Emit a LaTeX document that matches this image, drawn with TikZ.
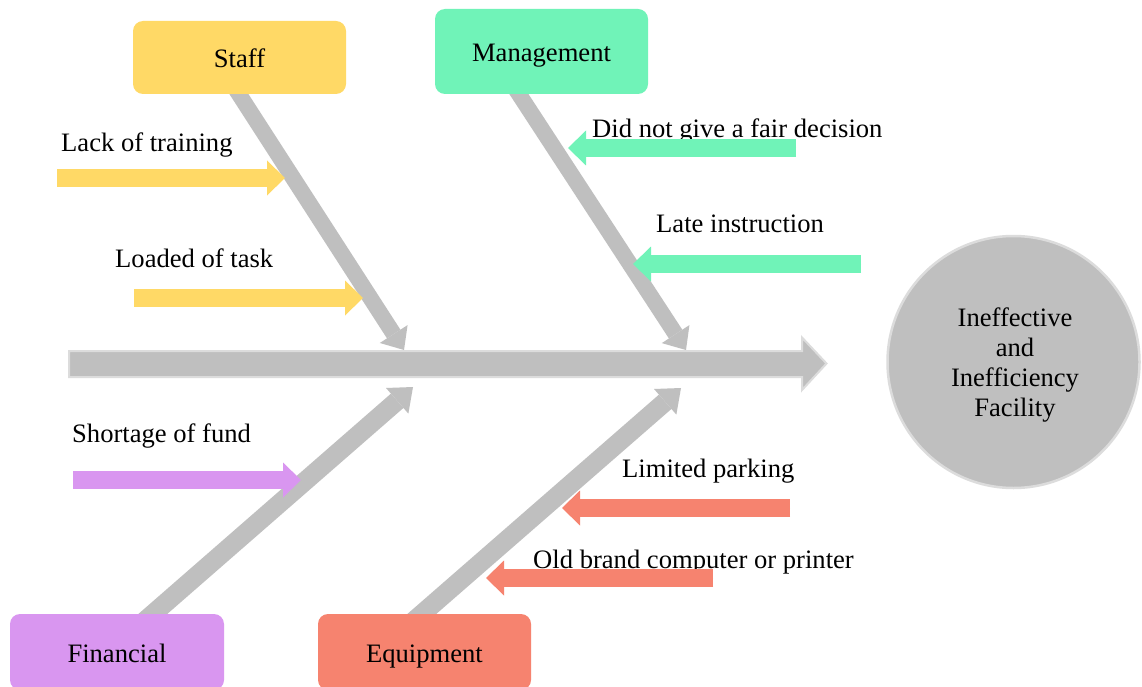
\documentclass[tikz,border=0pt]{standalone}
\usepackage{fontspec}
\setmainfont{Liberation Serif}
\usetikzlibrary{arrows.meta,backgrounds,calc}
\definecolor{cYellow}{HTML}{FFD966}
\definecolor{cMint}{HTML}{70F3B8}
\definecolor{cPurple}{HTML}{D996F0}
\definecolor{cSalmon}{HTML}{F6836F}
\definecolor{cBone}{HTML}{BFBFBF}
\definecolor{cEdge}{HTML}{DCDCDC}
\begin{document}
\begin{tikzpicture}[x=1pt,y=-1pt,
  every node/.style={font=\fontsize{26.6}{30}\selectfont, inner sep=0pt, text=black},
  catbox/.style={rounded corners=10pt, minimum width=213pt, text height=20pt, text depth=0pt},
  causelabel/.style={anchor=base west},
  bonetop/.style={line width=16pt, draw=cBone, shorten <=-20pt, -{Triangle[width=33pt,length=19pt,line width=0pt]}},
  bonebot/.style={line width=19pt, draw=cBone, shorten <=-20pt, -{Triangle[width=34pt,length=21pt,line width=0pt]}},
  cause/.style={line width=18pt, -{Triangle[width=35pt,length=18pt,line width=0pt]}},
]
\useasboundingbox (0,0) rectangle (1142,687);

% spine
\draw[fill=cBone, draw=cEdge, line width=2pt, line join=miter]
  (69,351) -- (802,351) -- (802,337.5) -- (826.5,363.5) -- (802,390) -- (802,377) -- (69,377) -- cycle;

% effect
\node[circle, minimum size=252pt, fill=cBone, draw=cEdge, line width=2.5pt] (effect) at (1013.5,362) {};
\node[align=center] (effecttext) at (1015,365.5) {Ineffective\\and\\Inefficiency\\Facility};

% category boxes
\node[catbox, fill=cYellow, minimum height=73pt] (staff) at (239.5,57.5) {Staff};
\node[catbox, fill=cMint, minimum height=85pt] (mgmt) at (541.5,51.5) {Management};
\node[catbox, fill=cPurple, minimum height=76pt, minimum width=214pt] (fin) at (117,652) {Financial};
\node[catbox, fill=cSalmon, minimum height=76pt] (equip) at (424.5,652) {Equipment};

% bone tips
\coordinate (staffTip) at (404,350);
\coordinate (mgmtTip) at (686,350);
\coordinate (finTip) at (413,387);
\coordinate (equipTip) at (681,388);

\begin{pgfonlayer}{background}
\fill[white] (0,0) rectangle (1142,687);
\draw[bonetop] ([xshift=-0.5pt]staff.south) -- (staffTip);
\draw[bonetop] ([xshift=-22.5pt]mgmt.south) -- (mgmtTip);
\draw[bonebot] ([xshift=36pt]fin.north) -- (finTip);
\draw[bonebot] ([xshift=-2.5pt]equip.north) -- (equipTip);
\end{pgfonlayer}

% cause labels
\node[causelabel] (c1) at (61,152) {Lack of training};
\node[causelabel] (c2) at (115,267) {Loaded of task};
\node[causelabel] (c3) at (592,138) {Did not give a fair decision};
\node[causelabel] (c4) at (656,232) {Late instruction};
\node[causelabel] (c5) at (72,442) {Shortage of fund};
\node[causelabel] (c6) at (622,477) {Limited parking};
\node[causelabel] (c7) at (533,568) {Old brand computer or printer};

% cause arrows
\coordinate (a1s) at (57,178);   \coordinate (a1e) at (285,178);
\coordinate (a2s) at (134,298);  \coordinate (a2e) at (363,298);
\coordinate (a3s) at (796,148);  \coordinate (a3e) at (568,148);
\coordinate (a4s) at (861,264);  \coordinate (a4e) at (633,264);
\coordinate (a5s) at (73,480);   \coordinate (a5e) at (301,480);
\coordinate (a6s) at (790,508);  \coordinate (a6e) at (562,508);
\coordinate (a7s) at (713,578);  \coordinate (a7e) at (486,578);
\draw[cause, draw=cYellow, fill=cYellow] (a1s) -- (a1e);
\draw[cause, draw=cYellow, fill=cYellow] (a2s) -- (a2e);
\draw[cause, draw=cMint, fill=cMint] (a3s) -- (a3e);
\draw[cause, draw=cMint, fill=cMint] (a4s) -- (a4e);
\draw[cause, draw=cPurple, fill=cPurple] (a5s) -- (a5e);
\draw[cause, draw=cSalmon, fill=cSalmon] (a6s) -- (a6e);
\draw[cause, draw=cSalmon, fill=cSalmon] (a7s) -- (a7e);
\end{tikzpicture}
\end{document}
